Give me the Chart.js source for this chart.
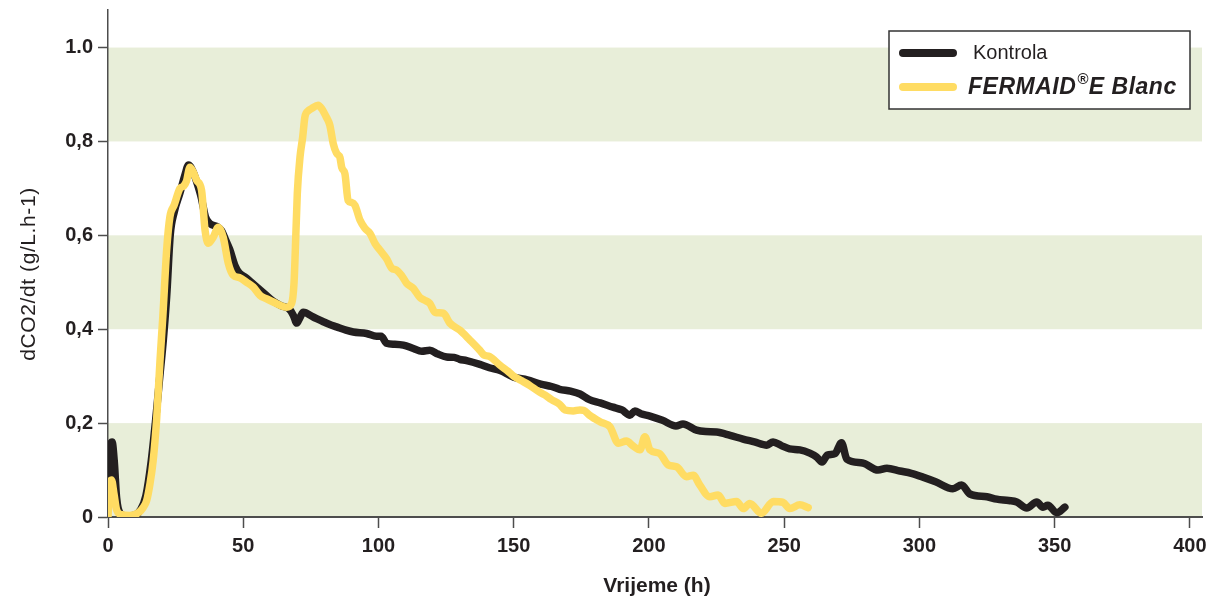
<!DOCTYPE html>
<html>
<head>
<meta charset="utf-8">
<script src="https://cdn.jsdelivr.net/npm/chart.js@4.4.1/dist/chart.umd.min.js"></script>
<style>
  html, body { margin: 0; padding: 0; background: #ffffff; }
  #wrap { width: 1209px; height: 597px; }
</style>
</head>
<body>
<div id="wrap"><canvas id="c" width="1209" height="597"></canvas></div>
<script>
// ---- data ----
const kontrolaHours = [0,0.7,1.5,2.3,3.2,4.5,7,10,12,14,16,17.5,19,20.5,21.7,23,24.5,26.6,28.5,29.8,31.5,33,34.5,36,37.7,40.5,42,43.5,45,47,48.5,51,53,55,58,61,64,67,68.5,69.8,71,72.2,75.9,79.6,82,84.5,88,90.7,95.6,99.3,101,103,106,109.2,112.9,116,119,122,125.2,128,130,132.6,137.5,141,145,150,155,160,164,167,171,174.5,178,182,186.7,190,193,194.8,197,200.4,205,210,212.6,217.6,221,225,230,234.8,239,243.6,245.9,249,252,255.8,259.5,262,264,266,268.8,271.2,273.2,279,284.7,288,292.8,297,301.3,306,312.4,315.6,318.7,325,328.6,333,336,339.7,343.4,345.7,347.5,350.8,353.8];
const kontrolaValues = [0.02,0.14,0.16,0.12,0.04,0.008,0.002,0.004,0.015,0.045,0.12,0.2,0.29,0.38,0.47,0.6,0.65,0.69,0.73,0.75,0.735,0.71,0.68,0.64,0.625,0.618,0.61,0.59,0.57,0.535,0.52,0.51,0.5,0.49,0.475,0.46,0.45,0.443,0.43,0.413,0.425,0.436,0.426,0.416,0.41,0.405,0.398,0.394,0.391,0.385,0.385,0.37,0.368,0.366,0.359,0.353,0.355,0.347,0.341,0.34,0.336,0.333,0.325,0.318,0.312,0.298,0.292,0.283,0.278,0.272,0.268,0.262,0.25,0.243,0.234,0.228,0.217,0.226,0.22,0.215,0.206,0.194,0.198,0.185,0.182,0.181,0.174,0.166,0.16,0.153,0.16,0.152,0.145,0.143,0.136,0.128,0.117,0.132,0.135,0.158,0.123,0.115,0.1,0.104,0.098,0.093,0.085,0.075,0.06,0.068,0.049,0.043,0.038,0.035,0.032,0.019,0.032,0.021,0.025,0.009,0.021];

const fermaidHours = [0,0.5,1.3,2.2,3.2,5,8,11,13,14.3,15.5,16.7,18,19.2,20.3,21.7,22.9,24.5,25.9,26.6,28,29,30.3,31.5,32.8,34.6,35.9,37.1,38.9,40.8,42.6,44.5,46.3,48.5,51.3,53.7,56.2,58.5,61.1,64,66,67.9,68.8,69.3,70,71,72,72.8,74,75.3,77.7,79,80.8,82,83.3,84.5,85.8,86.4,87.6,88.8,90,91.3,93.2,95,96.9,98.7,100.6,103,104.9,106.7,108.5,110.4,112.9,115.3,117,119,120.9,124,126.4,130.1,133.8,137.5,139,141,145,148,150,153,156,159,161.5,164,167,169,172,174.5,176,178,181.9,185.6,188.7,191.7,194,196.7,198.5,200.4,204,207.1,210.2,213.9,216.4,218.8,222.5,225.6,228.1,232.4,234.9,237.3,241.6,246,249.6,252.1,255.8,258.9];
const fermaidValues = [0.0,0.06,0.079,0.05,0.015,0.005,0.003,0.008,0.02,0.035,0.07,0.12,0.21,0.33,0.43,0.57,0.64,0.665,0.69,0.7,0.705,0.715,0.745,0.735,0.717,0.696,0.61,0.583,0.596,0.617,0.596,0.54,0.515,0.51,0.5,0.49,0.472,0.465,0.458,0.45,0.447,0.455,0.5,0.575,0.69,0.767,0.81,0.852,0.865,0.87,0.877,0.87,0.851,0.835,0.795,0.775,0.765,0.745,0.731,0.674,0.67,0.664,0.632,0.615,0.604,0.583,0.568,0.55,0.53,0.526,0.515,0.498,0.487,0.468,0.462,0.455,0.436,0.434,0.413,0.398,0.377,0.355,0.345,0.342,0.323,0.31,0.3,0.29,0.28,0.268,0.26,0.25,0.24,0.228,0.226,0.228,0.227,0.217,0.203,0.192,0.157,0.162,0.152,0.143,0.171,0.143,0.135,0.111,0.107,0.086,0.089,0.068,0.043,0.047,0.029,0.033,0.018,0.029,0.008,0.033,0.031,0.018,0.026,0.02];

const seriesNames = ['Kontrola', 'FERMAID', '®', 'E Blanc'];
const xTicks = [0, 50, 100, 150, 200, 250, 300, 350, 400];
const yTicks = [0, 0.2, 0.4, 0.6, 0.8, 1.0];
const yTickLabels = ['0', '0,2', '0,4', '0,6', '0,8', '1.0'];
const bandRanges = [[0, 0.2], [0.4, 0.6], [0.8, 1.0]];
const xTitle = 'Vrijeme (h)';
const yTitle = 'dCO2/dt (g/L.h-1)';

const BLACK = '#231f20';
const YELLOW = '#ffdc63';
const BAND = '#e8eed9';
const AXIS = '#4d4d4d';
const FONT = '"Liberation Sans", Arial, sans-serif';

function pts(xs, ys) { return xs.map((x, i) => ({ x: x, y: ys[i] })); }

const bandsPlugin = {
  id: 'bands',
  beforeDraw(chart) {
    const { ctx, chartArea, scales } = chart;
    ctx.save();
    ctx.fillStyle = BAND;
    bandRanges.forEach(([a, b]) => {
      const y1 = scales.y.getPixelForValue(b);
      const y2 = scales.y.getPixelForValue(a);
      ctx.fillRect(chartArea.left, y1, chartArea.right - chartArea.left, y2 - y1);
    });
    ctx.restore();
  }
};

const decorPlugin = {
  id: 'decor',
  afterDraw(chart) {
    const { ctx, chartArea } = chart;
    ctx.save();
    // axis titles
    ctx.fillStyle = BLACK;
    ctx.textAlign = 'center';
    ctx.textBaseline = 'middle';
    ctx.font = 'bold 21px ' + FONT;
    ctx.fillText(xTitle, 657, 586);
    ctx.save();
    ctx.translate(29, 274);
    ctx.rotate(-Math.PI / 2);
    ctx.font = '21px ' + FONT;
    try { ctx.letterSpacing = '0.6px'; } catch (e) {}
    ctx.fillText(yTitle, 0, 0);
    ctx.restore();

    // legend box
    const bx = 889, by = 31, bw = 301, bh = 78;
    ctx.fillStyle = '#ffffff';
    ctx.fillRect(bx, by, bw, bh);
    ctx.strokeStyle = '#333333';
    ctx.lineWidth = 1.5;
    ctx.strokeRect(bx, by, bw, bh);

    ctx.lineCap = 'round';
    ctx.lineWidth = 8;
    ctx.strokeStyle = BLACK;
    ctx.beginPath(); ctx.moveTo(903, 53); ctx.lineTo(953, 53); ctx.stroke();
    ctx.strokeStyle = YELLOW;
    ctx.beginPath(); ctx.moveTo(903, 87); ctx.lineTo(953, 87); ctx.stroke();

    ctx.fillStyle = BLACK;
    ctx.textAlign = 'left';
    ctx.textBaseline = 'middle';
    ctx.font = '20px ' + FONT;
    ctx.fillText(seriesNames[0], 973, 53);

    try { ctx.letterSpacing = '0.5px'; } catch (e) {}
    ctx.font = 'italic bold 23px ' + FONT;
    let x = 968;
    ctx.fillText(seriesNames[1], x, 88);
    x += ctx.measureText(seriesNames[1]).width + 1;
    ctx.font = 'italic bold 15px ' + FONT;
    ctx.fillText(seriesNames[2], x, 80);
    x += ctx.measureText(seriesNames[2]).width;
    ctx.font = 'italic bold 23px ' + FONT;
    ctx.fillText(seriesNames[3], x, 88);
    ctx.restore();
  }
};

const ctx = document.getElementById('c').getContext('2d');
new Chart(ctx, {
  type: 'line',
  data: {
    datasets: [
      {
        label: 'FERMAID®E Blanc',
        data: pts(fermaidHours, fermaidValues),
        borderColor: YELLOW,
        borderWidth: 7.5,
        pointRadius: 0,
        fill: false,
        cubicInterpolationMode: 'monotone',
        borderJoinStyle: 'round',
        borderCapStyle: 'round'
      },
      {
        label: 'Kontrola',
        data: pts(kontrolaHours, kontrolaValues),
        borderColor: BLACK,
        borderWidth: 7.5,
        pointRadius: 0,
        fill: false,
        cubicInterpolationMode: 'monotone',
        borderJoinStyle: 'round',
        borderCapStyle: 'round'
      }
    ]
  },
  options: {
    responsive: false,
    animation: false,
    events: [],
    layout: { padding: { left: 0, right: 7, top: 10, bottom: 0 } },
    plugins: { legend: { display: false }, tooltip: { enabled: false }, title: { display: false } },
    scales: {
      x: {
        type: 'linear',
        min: 0,
        max: 404.5,
        afterBuildTicks: (s) => { s.ticks = xTicks.map(v => ({ value: v })); },
        afterFit: (s) => { s.height = 80; s.paddingLeft = 0; s.paddingRight = 0; },
        ticks: {
          color: BLACK,
          font: { family: FONT, size: 20, weight: 'bold' },
          padding: 6,
          maxRotation: 0,
          autoSkip: false,
          callback: (v) => String(v)
        },
        grid: { drawOnChartArea: false, drawTicks: true, tickLength: 11, tickColor: AXIS, tickWidth: 1.5 },
        border: { display: true, color: AXIS, width: 2 }
      },
      y: {
        type: 'linear',
        min: 0,
        max: 1.08,
        afterBuildTicks: (s) => { s.ticks = yTicks.map(v => ({ value: v })); },
        afterFit: (s) => { s.width = 108; s.paddingTop = 0; s.paddingBottom = 0; },
        ticks: {
          color: BLACK,
          font: { family: FONT, size: 20, weight: 'bold' },
          padding: 5,
          autoSkip: false,
          callback: (v) => { const i = yTicks.findIndex(t => Math.abs(t - v) < 1e-6); return i >= 0 ? yTickLabels[i] : ''; }
        },
        grid: { drawOnChartArea: false, drawTicks: true, tickLength: 10, tickColor: AXIS, tickWidth: 1.5 },
        border: { display: true, color: AXIS, width: 1.5 }
      }
    }
  },
  plugins: [bandsPlugin, decorPlugin]
});
</script>
</body>
</html>
